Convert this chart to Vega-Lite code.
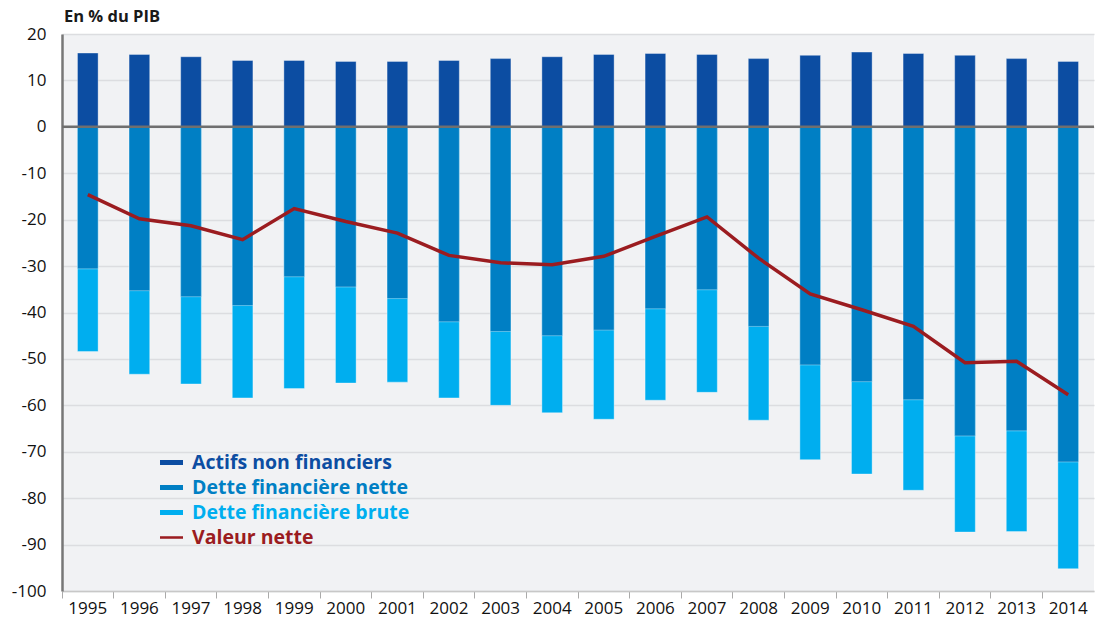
{
  "$schema": "https://vega.github.io/schema/vega-lite/v6.json",
  "width": 1032,
  "height": 557,
  "autosize": {"type": "none"},
  "padding": {"left": 62, "top": 34, "right": 1, "bottom": 32},
  "background": "white",
  "config": {"view": {"fill": "#f1f2f4", "stroke": null}, "font": "Open Sans"},
  "title": {"text": "En % du PIB", "anchor": "start", "frame": "group", "fontSize": 16.5, "fontWeight": "bold", "color": "#1a1a1a", "offset": 0, "dx": 2},
  "data": {"values": [
    {"annee": "1995", "actifs": 15.9, "nette": -30.6, "brute": -48.4, "valeur": -14.6},
    {"annee": "1996", "actifs": 15.6, "nette": -35.3, "brute": -53.3, "valeur": -19.8},
    {"annee": "1997", "actifs": 15.1, "nette": -36.6, "brute": -55.4, "valeur": -21.3},
    {"annee": "1998", "actifs": 14.3, "nette": -38.5, "brute": -58.4, "valeur": -24.3},
    {"annee": "1999", "actifs": 14.3, "nette": -32.3, "brute": -56.4, "valeur": -17.6},
    {"annee": "2000", "actifs": 14.1, "nette": -34.5, "brute": -55.2, "valeur": -20.4},
    {"annee": "2001", "actifs": 14.1, "nette": -37.0, "brute": -55.0, "valeur": -22.9},
    {"annee": "2002", "actifs": 14.3, "nette": -42.0, "brute": -58.4, "valeur": -27.7},
    {"annee": "2003", "actifs": 14.7, "nette": -44.1, "brute": -60.0, "valeur": -29.3},
    {"annee": "2004", "actifs": 15.1, "nette": -45.0, "brute": -61.6, "valeur": -29.7},
    {"annee": "2005", "actifs": 15.6, "nette": -43.8, "brute": -63.0, "valeur": -27.9},
    {"annee": "2006", "actifs": 15.8, "nette": -39.2, "brute": -58.9, "valeur": -23.6},
    {"annee": "2007", "actifs": 15.6, "nette": -35.1, "brute": -57.2, "valeur": -19.4},
    {"annee": "2008", "actifs": 14.7, "nette": -43.0, "brute": -63.2, "valeur": -28.3},
    {"annee": "2009", "actifs": 15.4, "nette": -51.3, "brute": -71.7, "valeur": -36.0},
    {"annee": "2010", "actifs": 16.1, "nette": -54.9, "brute": -74.8, "valeur": -39.4},
    {"annee": "2011", "actifs": 15.8, "nette": -58.8, "brute": -78.3, "valeur": -43.0},
    {"annee": "2012", "actifs": 15.4, "nette": -66.6, "brute": -87.3, "valeur": -50.8},
    {"annee": "2013", "actifs": 14.7, "nette": -65.5, "brute": -87.2, "valeur": -50.5},
    {"annee": "2014", "actifs": 14.1, "nette": -72.2, "brute": -95.2, "valeur": -57.7}
  ]},
  "transform": [{"fold": ["brute", "nette", "actifs", "valeur"], "as": ["serie", "valeur"]}],
  "layer": [
    {
      "transform": [{"filter": "datum.serie != 'valeur'"}],
      "mark": {"type": "bar", "width": {"band": 0.4}, "stroke": "white", "strokeOpacity": 0.35, "strokeWidth": 1},
      "encoding": {
        "x": {"field": "annee", "type": "ordinal", "scale": {"paddingInner": 0, "paddingOuter": 0},
          "axis": {"title": null, "labelAngle": 0, "labelFontSize": 17, "labelColor": "#111", "bandPosition": 0, "tickSize": 7, "tickColor": "#aaa", "tickWidth": 1, "domainColor": "#c8c8c8", "domainWidth": 1.5, "labelPadding": 2, "grid": false}},
        "y": {"field": "valeur", "type": "quantitative", "stack": null, "scale": {"domain": [-100, 20], "nice": false, "zero": false},
          "axis": {"title": null, "values": [-100, -90, -80, -70, -60, -50, -40, -30, -20, -10, 0, 10, 20], "labelExpr": "'' + datum.value", "labelFontSize": 17, "labelColor": "#111", "ticks": false, "labelPadding": 16, "domainColor": "#777", "domainWidth": 2.5, "gridColor": "#dcdde0", "gridWidth": 1.5}},
        "y2": {"datum": 0},
        "color": {"field": "serie", "type": "nominal",
          "scale": {"domain": ["actifs", "nette", "brute", "valeur"], "range": ["#0c4da2", "#007fc4", "#00aeef", "#9b1c20"]},
          "legend": {"orient": "none", "legendX": 98, "legendY": 417, "title": null, "labelFontSize": 19.5, "labelFontWeight": "bold", "labelLimit": 0,
            "labelExpr": "datum.value == 'actifs' ? 'Actifs non financiers' : datum.value == 'nette' ? 'Dette financière nette' : datum.value == 'brute' ? 'Dette financière brute' : 'Valeur nette'",
            "labelColor": {"expr": "datum.value == 'actifs' ? '#0c4da2' : datum.value == 'nette' ? '#007fc4' : datum.value == 'brute' ? '#00aeef' : '#9b1c20'"},
            "symbolType": {"expr": "datum.value == 'valeur' ? 'M-1,-0.11H1V0.11H-1Z' : 'M-1,-0.22H1V0.22H-1Z'"},
            "symbolSize": 529, "symbolStrokeWidth": 0, "symbolOpacity": 1, "rowPadding": 4, "labelOffset": 9}}
      }
    },
    {
      "transform": [{"filter": "datum.serie == 'valeur' && datum.annee == '1995'"}],
      "mark": {"type": "rule", "color": "#6f6f6f", "strokeWidth": 2.5},
      "encoding": {"y": {"datum": 0}}
    },
    {
      "transform": [{"filter": "datum.serie == 'valeur'"}],
      "mark": {"type": "line", "color": "#9b1c20", "strokeWidth": 3.5},
      "encoding": {
        "x": {"field": "annee", "type": "ordinal"},
        "y": {"field": "valeur", "type": "quantitative"}
      }
    }
  ]
}
